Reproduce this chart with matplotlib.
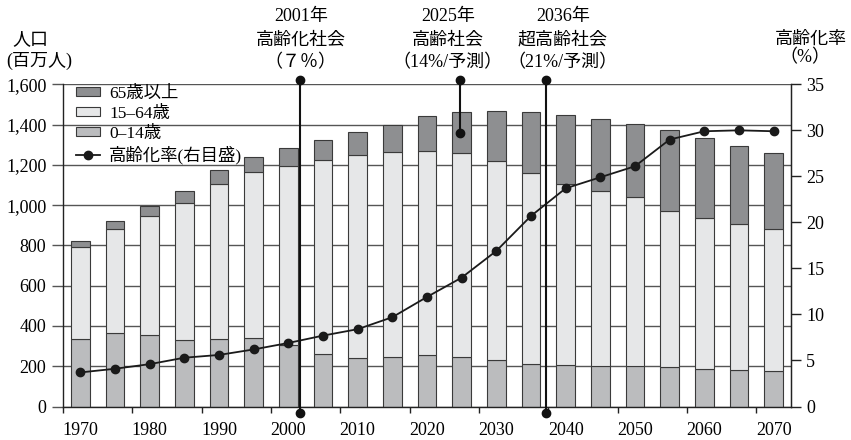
import matplotlib
matplotlib.use("Agg")
import matplotlib.pyplot as plt
from matplotlib.patches import Patch
from matplotlib.lines import Line2D
from matplotlib.transforms import blended_transform_factory
import numpy as np

plt.rcParams['font.family'] = ['Liberation Serif', 'Noto Sans CJK JP', 'DejaVu Sans']

# ---------------- data ----------------
years = [1970, 1975, 1980, 1985, 1990, 1995, 2000, 2005, 2010, 2015, 2020,
         2025, 2030, 2035, 2040, 2045, 2050, 2055, 2060, 2065, 2070]
age_0_14 = [333, 366, 353, 328, 336, 341, 305, 262, 242, 247, 254,
            247, 229, 212, 205, 202, 200, 194, 186, 179, 174]
age_15_64 = [461, 517, 595, 683, 771, 823, 890, 960, 1005, 1018, 1016,
             1010, 989, 948, 900, 870, 838, 779, 750, 728, 708]
age_65_plus = [30, 38, 46, 61, 66, 77, 89, 101, 114, 134, 171,
               203, 247, 302, 345, 357, 367, 398, 398, 387, 378]
aging_rate = [3.7, 4.1, 4.6, 5.3, 5.6, 6.2, 6.9, 7.7, 8.4, 9.7, 11.9,
              14.0, 16.9, 20.7, 23.7, 24.9, 26.1, 29.0, 29.9, 30.0, 29.9]

series_labels = ['65歳以上', '15–64歳', '0–14歳', '高齢化率(右目盛)']

event_x = [2001.7, 2024.8, 2037.1]
event_top = [1620, 1620, 1620]
event_bottom = [-32, 1356, -32]
event_text_x = [2001.8, 2023.0, 2039.6]
event_year_labels = ['2001年', '2025年', '2036年']
event_names = ['高齢化社会', '高齢社会', '超高齢社会']
event_notes = ['（７％）', '（14%/予測）', '（21%/予測）']

left_ticks = [0, 200, 400, 600, 800, 1000, 1200, 1400, 1600]
right_ticks = [0, 5, 10, 15, 20, 25, 30, 35]
x_label_years = [1970, 1980, 1990, 2000, 2010, 2020, 2030, 2040, 2050, 2060, 2070]

# ---------------- style ----------------
c65 = '#8e8f91'
c1564 = '#e6e7e8'
c014 = '#bbbcbe'
edge = '#3a3a3a'
grid_c = '#555555'
W, H = 851, 440

fig = plt.figure(figsize=(W / 100, H / 100), dpi=100)
ax_left, ax_right, ax_top, ax_bot = 63, 791, 84.3, 406.5
ax = fig.add_axes([ax_left / W, 1 - ax_bot / H, (ax_right - ax_left) / W, (ax_bot - ax_top) / H])

x = np.array(years, dtype=float)
a = np.array(age_0_14, dtype=float)
b = np.array(age_15_64, dtype=float)
c = np.array(age_65_plus, dtype=float)
bw = 2.65
ax.bar(x, a, bw, color=c014, edgecolor=edge, linewidth=0.8, zorder=2)
ax.bar(x, b, bw, bottom=a, color=c1564, edgecolor=edge, linewidth=0.8, zorder=2)
ax.bar(x, c, bw, bottom=a + b, color=c65, edgecolor=edge, linewidth=0.8, zorder=2)

ax.set_xlim(1967.5, 2072.5)
ax.set_ylim(0, 1600)
ax.set_yticks(left_ticks)
ax.set_yticklabels([f'{v:,}' for v in left_ticks], fontsize=13)
ax.yaxis.grid(True, color=grid_c, linewidth=1.0, zorder=0)
ax.set_axisbelow(True)
ax.tick_params(axis='y', length=8, width=1.0, color=grid_c, pad=4, direction='out')

ax.set_xticks(x_label_years)
ax.set_xticklabels([str(v) for v in x_label_years], fontsize=13)
ax.tick_params(axis='x', which='major', length=0, pad=11)
ax.set_xticks(np.arange(1967.5, 2070, 10), minor=True)
ax.tick_params(axis='x', which='minor', length=4, width=1.0, color='#222222', direction='out')

ax.spines['top'].set_visible(False)
for s in ['left', 'right', 'bottom']:
    ax.spines[s].set_color('#222222')
    ax.spines[s].set_linewidth(1.0)

ax2 = ax.twinx()
ax2.set_ylim(0, 35)
ax2.set_yticks(right_ticks)
ax2.set_yticklabels([str(v) for v in right_ticks], fontsize=13)
ax2.tick_params(axis='y', length=7, width=1.0, color='#222222', pad=4)
for s in ['top', 'left', 'bottom']:
    ax2.spines[s].set_visible(False)
ax2.spines['right'].set_color('#222222')
ax2.plot(x, aging_rate, color='#1a1a1a', linewidth=1.3, marker='o', markersize=6, zorder=5)

# event lines (heights given in left-axis units)
for ex, et, eb in zip(event_x, event_top, event_bottom):
    ax2.plot([ex, ex], [et * 35 / 1600, eb * 35 / 1600], color='#111111', linewidth=1.5,
             marker='o', markersize=6, clip_on=False, zorder=6)

tr = blended_transform_factory(ax.transData, fig.transFigure)
for tx, yl, nm, nt in zip(event_text_x, event_year_labels, event_names, event_notes):
    ax.text(tx, 1 - 17 / H, yl, transform=tr, ha='center', va='center', fontsize=13)
    ax.text(tx, 1 - 40 / H, nm, transform=tr, ha='center', va='center', fontsize=13)
    ax.text(tx, 1 - 63 / H, nt, transform=tr, ha='center', va='center', fontsize=13)

# axis titles
fig.text(30 / W, 1 - 40 / H, '人口', ha='center', va='center', fontsize=13)
fig.text(39 / W, 1 - 61 / H, '(百万人)', ha='center', va='center', fontsize=13)
fig.text(811 / W, 1 - 39 / H, '高齢化率', ha='center', va='center', fontsize=13)
fig.text(805 / W, 1 - 58 / H, '（%）', ha='center', va='center', fontsize=13)

handles = [Patch(facecolor=c65, edgecolor=edge, linewidth=0.8),
           Patch(facecolor=c1564, edgecolor=edge, linewidth=0.8),
           Patch(facecolor=c014, edgecolor=edge, linewidth=0.8),
           Line2D([0], [0], color='#1a1a1a', linewidth=1.3, marker='o', markersize=6)]
leg = ax2.legend(handles, series_labels, loc='upper left',
                 bbox_to_anchor=(76 / W, 1 - 86 / H), bbox_transform=fig.transFigure,
                 frameon=False, fontsize=12.5, handlelength=1.4, handleheight=0.42,
                 handletextpad=0.5, labelspacing=0.22, borderpad=0, borderaxespad=0)

fig.savefig('out.png', dpi=100)
